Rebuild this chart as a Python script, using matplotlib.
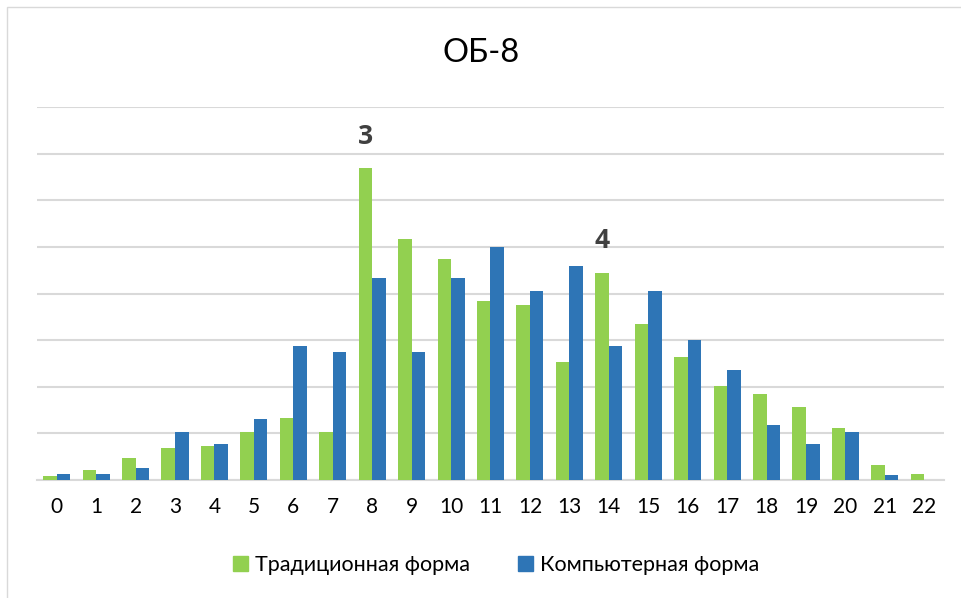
import matplotlib
matplotlib.use("Agg")
import matplotlib.pyplot as plt
from matplotlib.patches import Rectangle, Patch
import numpy as np

plt.rcParams['font.family'] = ['Lato', 'DejaVu Sans']

categories = [str(i) for i in range(23)]
traditional = [0.09, 0.21, 0.48, 0.69, 0.72, 1.02, 1.32, 1.04, 6.69, 5.16, 4.74, 3.84,
               3.76, 2.54, 4.45, 3.34, 2.64, 2.01, 1.84, 1.56, 1.11, 0.32, 0.13]
computer = [0.12, 0.12, 0.25, 1.04, 0.77, 1.30, 2.88, 2.75, 4.33, 2.75, 4.33, 4.99,
            4.06, 4.59, 2.88, 4.06, 3.01, 2.36, 1.18, 0.77, 1.04, 0.11, 0.0]
series_names = ["Традиционная форма", "Компьютерная форма"]
title = "ОБ-8"
annotations = {8: "3", 14: "4"}

W, H = 962, 598
fig = plt.figure(figsize=(W / 100, H / 100), dpi=100)
fig.patches.append(Rectangle((7 / W, -0.1), 1.2, 1 - 7 / H + 0.1, transform=fig.transFigure,
                             fill=False, edgecolor='#D9D9D9', linewidth=1.0))

ax = fig.add_axes([37 / W, 1 - 480 / H, (944 - 37) / W, (480 - 107) / H])
x = np.arange(len(categories))
bw = 0.343
green = '#92D050'
blue = '#2E75B6'
ax.bar(x - bw / 2, traditional, width=bw, color=green, zorder=3)
ax.bar(x + bw / 2, computer, width=bw, color=blue, zorder=3)

ax.set_xlim(-0.5, len(categories) - 0.5)
ax.set_ylim(0, 8)
ax.set_yticks(np.arange(0, 9, 1))
ax.yaxis.grid(True, color='#D9D9D9', linewidth=1.5, zorder=0)
ax.set_yticklabels([])
ax.tick_params(axis='y', length=0)
ax.tick_params(axis='x', length=0, pad=12, labelsize=15, colors='#000000')
ax.set_xticks(x)
ax.set_xticklabels(categories)
for s in ['top', 'right', 'left']:
    ax.spines[s].set_visible(False)
ax.spines['bottom'].set_color('#D9D9D9')
ax.spines['bottom'].set_linewidth(1.5)
ax.set_axisbelow(True)

for idx, lab in annotations.items():
    ax.annotate(lab, (idx - bw / 2, traditional[idx]), xytext=(0, 13), textcoords='offset points',
                ha='center', va='bottom', fontsize=19, fontweight='bold', color='#404040',
                family=['Open Sans', 'DejaVu Sans'])

fig.text(0.5, 1 - 53 / H, title, ha='center', va='center', fontsize=23.5, color='#000000')

handles = [Patch(color=green), Patch(color=blue)]
fig.legend(handles, series_names, loc='center', bbox_to_anchor=(496 / W, 1 - 565 / H), ncol=2,
           frameon=False, fontsize=15.5, handlelength=0.7, handleheight=0.7,
           handletextpad=0.35, columnspacing=2.2)

fig.savefig('out.png', dpi=100)
